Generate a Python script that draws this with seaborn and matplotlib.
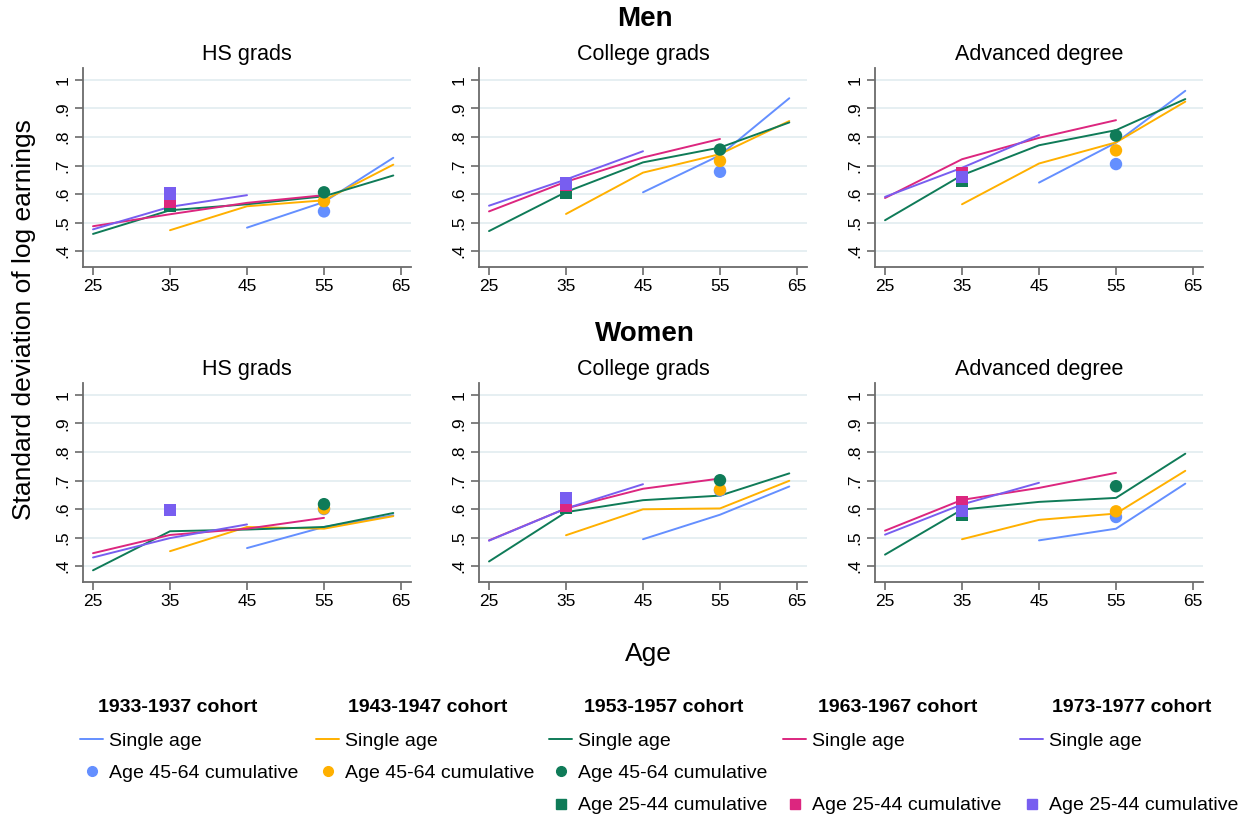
import numpy as np
import pandas as pd
import matplotlib
matplotlib.use("Agg")
import matplotlib.pyplot as plt
from matplotlib.lines import Line2D
import seaborn as sns

sns.set_theme(style="white")
plt.rcParams["font.family"] = ["Liberation Sans", "DejaVu Sans"]
plt.rcParams["text.color"] = "black"

# ---- data -------------------------------------------------------------
COHORTS = ["1933-1937", "1943-1947", "1953-1957", "1963-1967", "1973-1977"]
COLORS = ["#648FFF", "#FFB000", "#0F7B58", "#DC267F", "#785EF0"]

# ages at which each cohort is observed (single-age series)
COHORT_AGES = [
    [45, 55, 64],
    [35, 45, 55, 64],
    [25, 35, 45, 55, 64],
    [25, 35, 45, 55],
    [25, 35, 45],
]

PANELS = ["HS grads", "College grads", "Advanced degree"]

# single-age standard deviation of log earnings, per cohort
MEN_HS = [
    [0.482, 0.572, 0.727],
    [0.473, 0.557, 0.578, 0.703],
    [0.460, 0.543, 0.564, 0.592, 0.665],
    [0.487, 0.529, 0.569, 0.596],
    [0.476, 0.555, 0.596],
]
MEN_COLLEGE = [
    [0.606, 0.736, 0.936],
    [0.530, 0.675, 0.740, 0.856],
    [0.470, 0.607, 0.711, 0.763, 0.851],
    [0.539, 0.643, 0.728, 0.793],
    [0.559, 0.651, 0.750],
]
MEN_ADVANCED = [
    [0.640, 0.780, 0.962],
    [0.564, 0.707, 0.781, 0.924],
    [0.508, 0.666, 0.771, 0.824, 0.933],
    [0.586, 0.722, 0.797, 0.859],
    [0.590, 0.692, 0.807],
]
WOMEN_HS = [
    [0.463, 0.537, 0.578],
    [0.452, 0.537, 0.531, 0.575],
    [0.385, 0.522, 0.528, 0.537, 0.586],
    [0.445, 0.509, 0.531, 0.569],
    [0.430, 0.498, 0.546],
]
WOMEN_COLLEGE = [
    [0.494, 0.580, 0.679],
    [0.508, 0.599, 0.602, 0.699],
    [0.416, 0.589, 0.631, 0.647, 0.725],
    [0.490, 0.602, 0.671, 0.707],
    [0.489, 0.602, 0.687],
]
WOMEN_ADVANCED = [
    [0.490, 0.531, 0.689],
    [0.494, 0.562, 0.584, 0.734],
    [0.440, 0.598, 0.625, 0.639, 0.794],
    [0.524, 0.632, 0.674, 0.727],
    [0.510, 0.616, 0.692],
]

# cumulative measures: age 45-64 (plotted at 55) for the three oldest cohorts,
# age 25-44 (plotted at 35) for the three youngest cohorts
OLD_COHORTS = [0, 1, 2]
YOUNG_COHORTS = [2, 3, 4]
MEN_CUM_OLD = [[0.539, 0.575, 0.606], [0.678, 0.716, 0.756], [0.705, 0.753, 0.805]]
MEN_CUM_YOUNG = [[0.560, 0.572, 0.602], [0.604, 0.631, 0.637], [0.648, 0.672, 0.660]]
WOMEN_CUM_OLD = [[0.600, 0.602, 0.617], [0.665, 0.668, 0.701], [0.572, 0.592, 0.680]]
WOMEN_CUM_YOUNG = [[0.596, 0.597, 0.597], [0.606, 0.613, 0.639], [0.580, 0.623, 0.594]]

X_TICKS = [25, 35, 45, 55, 65]
Y_TICKS = [0.4, 0.5, 0.6, 0.7, 0.8, 0.9, 1.0]
Y_TICKLABELS = [".4", ".5", ".6", ".7", ".8", ".9", "1"]


def long_lines(series):
    rows = []
    for c, ages, vals in zip(COHORTS, COHORT_AGES, series):
        for a, v in zip(ages, vals):
            rows.append({"cohort": c, "age": a, "sd": v})
    return pd.DataFrame(rows)


def long_points(vals, idx, age):
    return pd.DataFrame({"cohort": [COHORTS[i] for i in idx],
                         "age": [age] * len(idx), "sd": vals})


palette = dict(zip(COHORTS, COLORS))

# ---- figure -----------------------------------------------------------
W, H = 1252, 818
fig = plt.figure(figsize=(W / 100, H / 100), dpi=100)

col_lr = [(83, 411), (479, 807), (875, 1203)]
row_tb = [(68, 267), (383, 582)]

rows_data = [
    ([MEN_HS, MEN_COLLEGE, MEN_ADVANCED], MEN_CUM_OLD, MEN_CUM_YOUNG),
    ([WOMEN_HS, WOMEN_COLLEGE, WOMEN_ADVANCED], WOMEN_CUM_OLD, WOMEN_CUM_YOUNG),
]

axis_col = "#6b6b6b"
for r, (series_list, cum_old, cum_young) in enumerate(rows_data):
    top, bot = row_tb[r]
    for c in range(3):
        left, right = col_lr[c]
        ax = fig.add_axes([left / W, 1 - bot / H, (right - left) / W, (bot - top) / H])
        ax.set_xlim(23.7, 66.3)
        ax.set_ylim(0.344, 1.042)
        for y in Y_TICKS:
            ax.axhline(y, color="#E6EFF2", lw=1.4, zorder=0)

        sns.lineplot(data=long_lines(series_list[c]), x="age", y="sd", hue="cohort",
                     palette=palette, hue_order=COHORTS, estimator=None,
                     lw=1.4, legend=False, ax=ax, zorder=2)
        sns.scatterplot(data=long_points(cum_old[c], OLD_COHORTS, 55), x="age", y="sd",
                        hue="cohort", palette=palette, marker="o", s=80,
                        linewidth=0, legend=False, ax=ax, zorder=3)
        sns.scatterplot(data=long_points(cum_young[c], YOUNG_COHORTS, 35), x="age", y="sd",
                        hue="cohort", palette=palette, marker="s", s=80,
                        linewidth=0, legend=False, ax=ax, zorder=3)

        ax.set_xticks(X_TICKS)
        ax.set_xticklabels([str(t) for t in X_TICKS])
        ax.set_yticks(Y_TICKS)
        ax.set_yticklabels(Y_TICKLABELS, rotation=90, va="center")
        ax.tick_params(axis="both", labelsize=12.5, length=6, width=1.2,
                       color=axis_col, labelcolor="black", pad=3,
                       left=True, bottom=True)
        ax.set_xlabel("")
        ax.set_ylabel("")
        for s in ["top", "right"]:
            ax.spines[s].set_visible(False)
        for s in ["left", "bottom"]:
            ax.spines[s].set_color(axis_col)
            ax.spines[s].set_linewidth(1.3)
        ax.set_title(PANELS[c], fontsize=15.5, pad=6, color="black")

fig.text(645 / W, 1 - 19 / H, "Men", ha="center", va="center",
         fontsize=20, fontweight="bold")
fig.text(645 / W, 1 - 334 / H, "Women", ha="center", va="center",
         fontsize=20, fontweight="bold")
fig.text(24 / W, 1 - 320 / H, "Standard deviation of log earnings", rotation=90,
         ha="center", va="center", fontsize=19)
fig.text(648 / W, 1 - 654 / H, "Age", ha="center", va="center", fontsize=19)

# ---- legend: one block per cohort --------------------------------------
leg_x = [80, 316, 549, 783, 1020]
title_x = [178, 428, 664, 898, 1132]
for i, (name, col) in enumerate(zip(COHORTS, COLORS)):
    fig.text(title_x[i] / W, 1 - 708 / H, f"{name} cohort", ha="center",
             va="center", fontsize=14, fontweight="bold")
    line_h = Line2D([], [], color=col, lw=1.4)
    circ_h = Line2D([], [], color=col, marker="o", ls="", markersize=7)
    sq_h = Line2D([], [], color=col, marker="s", ls="", markersize=7)
    blank = Line2D([], [], ls="", marker="")
    handles = [line_h]
    labels = ["Single age"]
    handles.append(circ_h if i in OLD_COHORTS else blank)
    labels.append("Age 45-64 cumulative" if i in OLD_COHORTS else "")
    if i in YOUNG_COHORTS:
        handles.append(sq_h)
        labels.append("Age 25-44 cumulative")
    fig.legend(handles, labels, loc="upper left",
               bbox_to_anchor=(leg_x[i] / W, 1 - 732 / H), frameon=False,
               fontsize=14, handlelength=1.2, handletextpad=0.3,
               labelspacing=0.76, borderaxespad=0, borderpad=0)

fig.savefig("out.png", dpi=100)
